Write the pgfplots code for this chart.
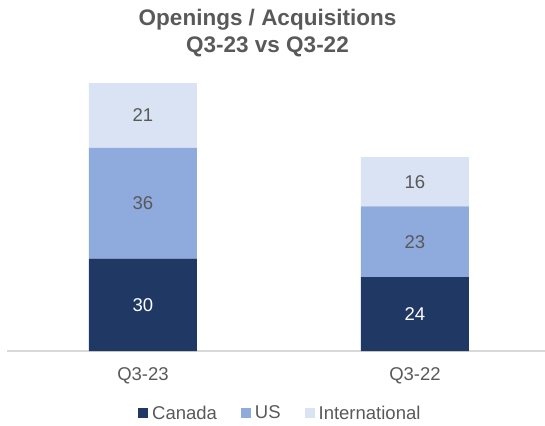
\documentclass[border=0pt]{standalone}
\usepackage{pgfplots}
\pgfplotsset{compat=1.18}
\usepackage{pgfplotstable}
\usepackage{fontspec}
\setmainfont{Liberation Sans}
\definecolor{canC}{HTML}{203864}
\definecolor{usC}{HTML}{8FAADC}
\definecolor{intC}{HTML}{DAE3F3}
\definecolor{txtC}{HTML}{595959}
\definecolor{axC}{HTML}{D9D9D9}
\pgfplotstableread{
x can us intl
0 30 36 21
1 24 23 16
}\data
% label positions (segment midpoints) and values
\pgfplotstableread{
x y v
0 15 30
1 12 24
}\labcan
\pgfplotstableread{
x y v
0 48 36
1 35.5 23
0 76.5 21
1 55 16
}\labrest
\pgfplotsset{
  common/.style={
    at={(7bp,75bp)}, anchor=south west,
    scale only axis, width=538bp, height=274bp,
    xmin=-0.5, xmax=1.478, ymin=0, ymax=89,
    clip=false,
  }
}
\begin{document}
\begin{tikzpicture}
\path[use as bounding box] (0,0) rectangle (545bp,426bp);
\begin{axis}[
  common,
  ybar stacked, bar width=108bp,
  axis y line=none,
  axis x line*=bottom,
  x axis line style={draw=axC, line width=1.5bp, -},
  xtick={0,1}, xticklabels={Q3-23,Q3-22},
  major tick length=0pt,
  xticklabel style={font=\fontsize{18.5bp}{22bp}\selectfont, text=txtC, yshift=-13bp},
  legend columns=3,
  legend style={at={(0.508,-0.227)}, anchor=center, draw=none, fill=none,
    font=\fontsize{18.5bp}{22bp}\selectfont, text=txtC,
    /tikz/every odd column/.append style={column sep=2bp},
    /tikz/every even column/.append style={column sep=22bp}},
  legend image code/.code={\fill[#1] (0bp,-5bp) rectangle (10bp,5bp);},
]
\addplot[fill=canC, draw=none] table[x=x, y=can]{\data};
\addplot[fill=usC, draw=none] table[x=x, y=us]{\data};
\addplot[fill=intC, draw=none] table[x=x, y=intl]{\data};
\legend{Canada, US, International}
\end{axis}
\begin{axis}[
  common,
  hide axis,
  point meta=explicit,
  nodes near coords={\pgfmathprintnumber[assume math mode=true]{\pgfplotspointmeta}},
  nodes near coords style={font=\fontsize{18.5bp}{22bp}\selectfont, anchor=center, inner sep=0pt},
]
\addplot[only marks, mark=none, nodes near coords style={text=white}]
  table[x=x, y=y, meta=v]{\labcan};
\addplot[only marks, mark=none, nodes near coords style={text=txtC}]
  table[x=x, y=y, meta=v]{\labrest};
\end{axis}
\node[text=txtC, font=\bfseries\fontsize{22.5bp}{27bp}\selectfont, align=center] at (267.5bp,392.5bp)
  {Openings / Acquisitions\\Q3-23 vs Q3-22};
\end{tikzpicture}
\end{document}
